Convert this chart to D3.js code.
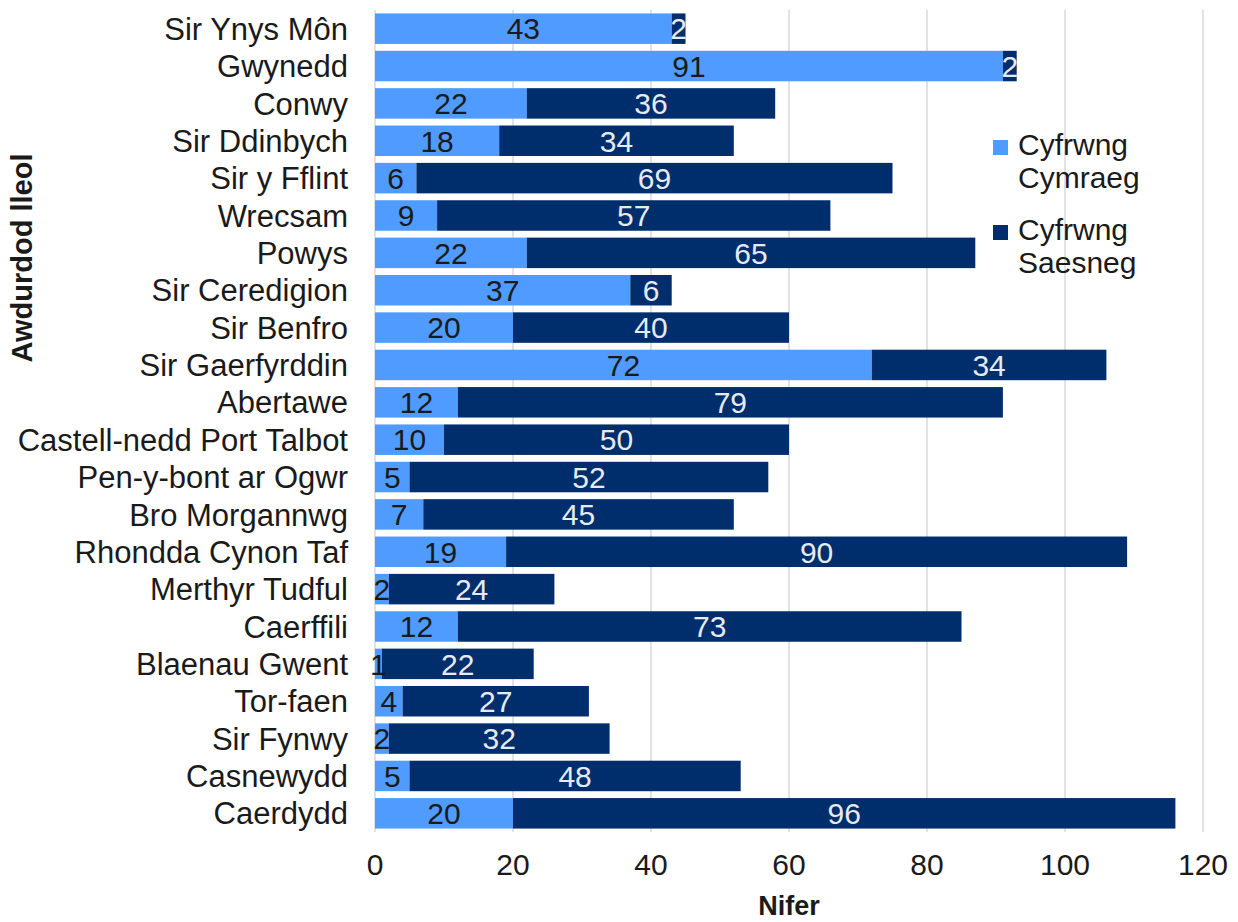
<!DOCTYPE html>
<html>
<head>
<meta charset="utf-8">
<script src="https://cdn.jsdelivr.net/npm/d3@7"></script>
<style>
  body { margin: 0; background: #fff; }
  text { font-family: "Liberation Sans", Arial, sans-serif; }
</style>
</head>
<body>
<svg id="drawing_region"></svg>
<script>
const categories = ["Sir Ynys Môn", "Gwynedd", "Conwy", "Sir Ddinbych", "Sir y Fflint", "Wrecsam",
    "Powys", "Sir Ceredigion", "Sir Benfro", "Sir Gaerfyrddin", "Abertawe", "Castell-nedd Port Talbot",
    "Pen-y-bont ar Ogwr", "Bro Morgannwg", "Rhondda Cynon Taf", "Merthyr Tudful", "Caerffili",
    "Blaenau Gwent", "Tor-faen", "Sir Fynwy", "Casnewydd", "Caerdydd"];
const welshMedium = [43, 91, 22, 18, 6, 9, 22, 37, 20, 72, 12, 10, 5, 7, 19, 2, 12, 1, 4, 2, 5, 20];
const englishMedium = [2, 2, 36, 34, 69, 57, 65, 6, 40, 34, 79, 50, 52, 45, 90, 24, 73, 22, 27, 32, 48, 96];
const seriesNames = [["Cyfrwng", "Cymraeg"], ["Cyfrwng", "Saesneg"]];
const xTicks = [0, 20, 40, 60, 80, 100, 120];

const width = 1238, height = 922;
const margin = { left: 375, right: 35, top: 10, bottom: 90 };
const colors = ["#4f9bff", "#002d6b"];
const labelColors = ["#1a1a1a", "#e6ebf2"];

const svg = d3.select('#drawing_region')
    .attr('width', width)
    .attr('height', height);

const x = d3.scaleLinear()
    .domain([0, 120])
    .range([margin.left, width - margin.right]);

const y = d3.scaleBand()
    .domain(categories)
    .range([margin.top, height - margin.bottom])
    .paddingInner(0.184)
    .paddingOuter(0.092);

// grid
svg.append('g')
    .selectAll('line')
    .data(xTicks)
    .enter()
    .append('line')
    .attr('x1', d => x(d))
    .attr('x2', d => x(d))
    .attr('y1', margin.top)
    .attr('y2', height - margin.bottom)
    .attr('stroke', '#d9d9d9')
    .attr('stroke-width', 1.5);

const rows = categories.map((c, i) => ({ cat: c, vals: [welshMedium[i], englishMedium[i]] }));
const segs = [];
rows.forEach(r => {
    let start = 0;
    r.vals.forEach((v, k) => {
        segs.push({ cat: r.cat, k: k, x0: start, x1: start + v, v: v });
        start += v;
    });
});

svg.append('g')
    .selectAll('rect')
    .data(segs)
    .enter()
    .append('rect')
    .attr('x', d => x(d.x0))
    .attr('width', d => x(d.x1) - x(d.x0))
    .attr('y', d => y(d.cat))
    .attr('height', y.bandwidth())
    .attr('fill', d => colors[d.k]);

svg.append('g')
    .selectAll('text')
    .data(segs)
    .enter()
    .append('text')
    .attr('x', d => x((d.x0 + d.x1) / 2))
    .attr('y', d => y(d.cat) + y.bandwidth() / 2)
    .attr('dy', '0.36em')
    .attr('text-anchor', 'middle')
    .attr('font-size', '30px')
    .attr('fill', d => labelColors[d.k])
    .text(d => d.v);

// category labels
svg.append('g')
    .selectAll('text')
    .data(categories)
    .enter()
    .append('text')
    .attr('x', 348)
    .attr('y', d => y(d) + y.bandwidth() / 2)
    .attr('dy', '0.36em')
    .attr('text-anchor', 'end')
    .attr('font-size', '31px')
    .attr('fill', '#1a1a1a')
    .text(d => d);

// x tick labels
svg.append('g')
    .selectAll('text')
    .data(xTicks)
    .enter()
    .append('text')
    .attr('x', d => x(d))
    .attr('y', 875)
    .attr('text-anchor', 'middle')
    .attr('font-size', '30px')
    .attr('fill', '#1a1a1a')
    .text(d => d);

svg.append('text')
    .attr('x', (x(0) + x(120)) / 2)
    .attr('y', 915)
    .attr('text-anchor', 'middle')
    .attr('font-size', '27px')
    .attr('font-weight', 'bold')
    .attr('fill', '#1a1a1a')
    .text('Nifer');

svg.append('text')
    .attr('transform', 'translate(32, 258) rotate(-90)')
    .attr('text-anchor', 'middle')
    .attr('font-size', '29px')
    .attr('font-weight', 'bold')
    .attr('fill', '#1a1a1a')
    .text('Awdurdod lleol');

// legend
const legend = svg.append('g')
    .selectAll('g')
    .data(seriesNames)
    .enter()
    .append('g')
    .attr('transform', (d, i) => `translate(993, ${155 + i * 85})`);

legend.append('rect')
    .attr('x', 0)
    .attr('y', -15)
    .attr('width', 15)
    .attr('height', 15)
    .attr('fill', (d, i) => colors[i]);

legend.append('text')
    .attr('font-size', '30px')
    .attr('fill', '#1a1a1a')
    .selectAll('tspan')
    .data(d => d)
    .enter()
    .append('tspan')
    .attr('x', 25)
    .attr('y', (d, i) => i * 33)
    .text(d => d);
</script>
</body>
</html>
